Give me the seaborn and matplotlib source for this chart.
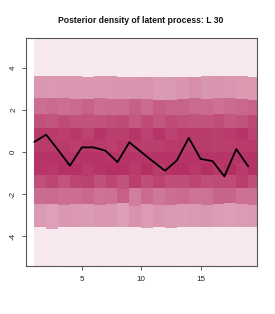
import numpy as np
import matplotlib
matplotlib.use('Agg')
import matplotlib.pyplot as plt
import seaborn as sns

# time index of the latent process
time_idx = list(range(1, 20))

# posterior summary line
post_line = [0.48, 0.82, 0.10, -0.65, 0.22, 0.22, 0.06, -0.48, 0.46, 0.00,
             -0.45, -0.89, -0.40, 0.67, -0.33, -0.43, -1.16, 0.14, -0.68]

# band boundaries per time point (upper u*, median, lower l*)
u5 = [3.62, 3.63, 3.61, 3.60, 3.58, 3.62, 3.60, 3.56, 3.55, 3.57,
      3.58, 3.57, 3.55, 3.54, 3.59, 3.61, 3.62, 3.60, 3.55]
u4 = [2.56, 2.55, 2.55, 2.53, 2.51, 2.55, 2.54, 2.51, 2.50, 2.54,
      2.48, 2.48, 2.50, 2.55, 2.53, 2.57, 2.56, 2.52, 2.47]
u3 = [1.79, 1.80, 1.78, 1.78, 1.80, 1.78, 1.78, 1.76, 1.80, 1.78,
      1.79, 1.77, 1.78, 1.80, 1.78, 1.79, 1.81, 1.78, 1.76]
u2 = [1.15, 1.14, 1.16, 1.13, 1.15, 1.13, 1.15, 1.14, 1.13, 1.16,
      1.13, 1.15, 1.14, 1.15, 1.13, 1.16, 1.14, 1.13, 1.15]
u1 = [0.58, 0.57, 0.58, 0.57, 0.56, 0.58, 0.57, 0.56, 0.58, 0.57,
      0.58, 0.56, 0.57, 0.58, 0.56, 0.58, 0.57, 0.58, 0.56]
med = [0.01, 0.00, 0.01, -0.01, 0.00, 0.01, -0.01, 0.00, 0.01, -0.01,
       0.00, -0.01, 0.01, 0.01, -0.01, 0.00, -0.01, 0.01, -0.01]
l1 = [-0.54, -0.55, -0.54, -0.56, -0.55, -0.54, -0.56, -0.55, -0.54, -0.56,
      -0.55, -0.56, -0.54, -0.54, -0.56, -0.55, -0.56, -0.54, -0.55]
l2 = [-1.09, -1.11, -1.08, -1.10, -1.12, -1.09, -1.10, -1.09, -1.11, -1.09,
      -1.12, -1.10, -1.08, -1.10, -1.09, -1.11, -1.09, -1.11, -1.09]
l3 = [-1.72, -1.71, -1.73, -1.70, -1.71, -1.73, -1.70, -1.74, -1.69, -1.72,
      -1.71, -1.73, -1.71, -1.70, -1.72, -1.73, -1.71, -1.69, -1.72]
l4 = [-2.48, -2.46, -2.50, -2.47, -2.45, -2.52, -2.48, -2.44, -2.55, -2.47,
      -2.53, -2.50, -2.46, -2.49, -2.51, -2.45, -2.43, -2.47, -2.50]
l5 = [-3.58, -3.64, -3.57, -3.55, -3.56, -3.58, -3.55, -3.58, -3.57, -3.59,
      -3.58, -3.59, -3.57, -3.58, -3.58, -3.57, -3.57, -3.58, -3.58]

# probability mass inside each inner band and in each tail
inner_mass = 0.095
outer_mass = 0.035

x_ticks = [5, 10, 15]
y_ticks = [-4, -2, 0, 2, 4]
title = "Posterior density of latent process: L 30"

x_lim = (0.28, 19.72)
y_lim = (-5.4, 5.4)
dark = np.array([0xB4, 0x2E, 0x62]) / 255.0
dens_ref = 0.178


def band_colour(mass, height):
    f = min(mass / height / dens_ref, 1.0)
    return tuple(1 - f * (1 - dark))


sns.set_style("ticks")
plt.rcParams['font.family'] = ['Liberation Sans', 'DejaVu Sans']

fig = plt.figure(figsize=(2.75, 3.14), dpi=100)
ax = fig.add_axes([0.0935, 0.1538, 0.84, 0.7242])

edges = [l5, l4, l3, l2, l1, med, u1, u2, u3, u4, u5]
for i, x in enumerate(time_idx):
    col = [e[i] for e in edges]
    # lower tail
    ax.bar(x, col[0] - y_lim[0], bottom=y_lim[0], width=1, align='edge',
           color=band_colour(outer_mass, col[0] - y_lim[0]), linewidth=0)
    for k in range(len(col) - 1):
        h = col[k + 1] - col[k]
        ax.bar(x, h, bottom=col[k], width=1, align='edge',
               color=band_colour(inner_mass, h), linewidth=0)
    # upper tail
    ax.bar(x, y_lim[1] - col[-1], bottom=col[-1], width=1, align='edge',
           color=band_colour(outer_mass, y_lim[1] - col[-1]), linewidth=0)

sns.lineplot(x=time_idx, y=post_line, color='black', linewidth=1.3, ax=ax)

ax.set_xlim(*x_lim)
ax.set_ylim(*y_lim)
ax.set_xticks(x_ticks)
ax.set_yticks(y_ticks)
ax.set_xticklabels([str(t) for t in x_ticks])
ax.set_yticklabels([str(t) for t in y_ticks], rotation=90, va='center')
ax.tick_params(axis='both', direction='out', length=3.2, width=0.6,
               color='#444444', labelsize=5.8, labelcolor='#222222')
ax.tick_params(axis='x', pad=4.5)
ax.tick_params(axis='y', pad=3)
for s in ax.spines.values():
    s.set_visible(True)
    s.set_color('#555555')
    s.set_linewidth(0.8)
ax.grid(False)

fig.text(0.513, 0.936, title, ha='center', va='center',
         fontsize=6.2, fontweight='bold', color='#111111')

fig.savefig("out.png", dpi=100)
plt.close('all')
